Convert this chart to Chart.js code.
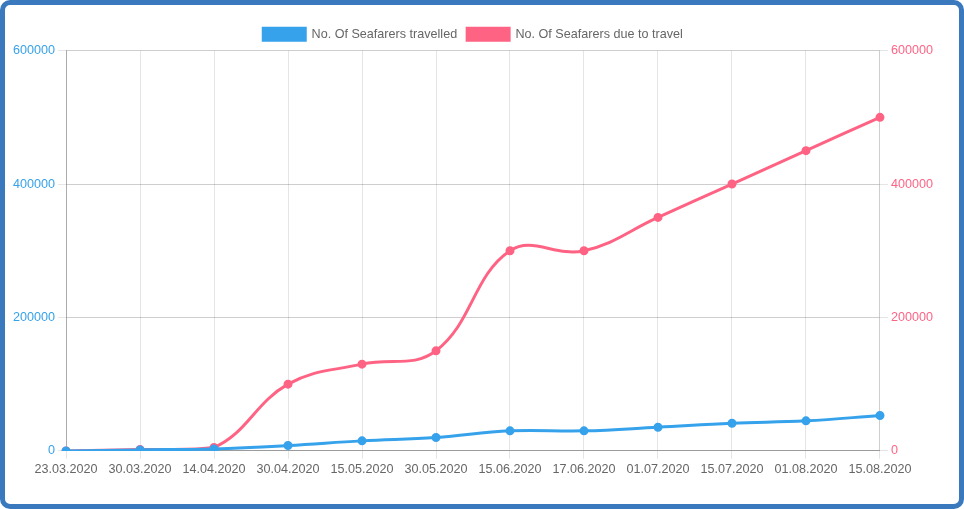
<!DOCTYPE html>
<html>
<head>
<meta charset="utf-8">
<script src="https://cdn.jsdelivr.net/npm/chart.js@4/dist/chart.umd.min.js"></script>
<style>
    html, body { margin: 0; padding: 0; background: #fff; }
    #moldura {
        width: 964px; height: 509px; box-sizing: border-box;
        border: 5px solid #3a79be; border-radius: 10px;
        position: relative; overflow: hidden;
    }
    #grafico { display: block; }
</style>
</head>
<body>
<div id="moldura"><canvas id="grafico" width="954" height="499"></canvas></div>
<script>
const datas = ["23.03.2020", "30.03.2020", "14.04.2020", "30.04.2020", "15.05.2020", "30.05.2020",
               "15.06.2020", "17.06.2020", "01.07.2020", "15.07.2020", "01.08.2020", "15.08.2020"];
const viajaram = [0, 1500, 3000, 8000, 15000, 20000, 30000, 30000, 35500, 41500, 45000, 53000];
const aViajar  = [0, 2000, 5000, 100000, 130000, 150000, 300000, 300000, 350000, 400000, 450000, 500000];

const azul = "#36a2eb";
const rosa = "#ff6384";
const fonte = { family: "'Liberation Sans', Arial, sans-serif", size: 12.6 };

Chart.defaults.font = fonte;
Chart.defaults.color = "#666";

// sem separador de milhar, igual ao original
const semVirgula = v => String(v);

new Chart(document.getElementById("grafico"), {
    type: "line",
    data: {
        labels: datas,
        datasets: [{
            label: "No. Of Seafarers travelled",
            data: viajaram,
            borderColor: azul,
            backgroundColor: azul,
            pointBackgroundColor: azul,
            borderWidth: 3,
            pointRadius: 3,
            tension: 0.4,
            fill: false,
            yAxisID: "esq"
        }, {
            label: "No. Of Seafarers due to travel",
            data: aViajar,
            borderColor: rosa,
            backgroundColor: rosa,
            pointBackgroundColor: rosa,
            borderWidth: 3,
            pointRadius: 3,
            tension: 0.4,
            fill: false,
            yAxisID: "dir"
        }]
    },
    options: {
        responsive: false,
        animation: false,
        layout: { padding: { top: 13, left: 5, right: 23, bottom: 24 } },
        plugins: {
            legend: {
                labels: { boxWidth: 42, boxHeight: 12, color: "#666", font: fonte }
            },
            tooltip: { enabled: false }
        },
        scales: {
            x: {
                grid: { color: "rgba(0,0,0,0.1)", tickLength: 8 },
                border: { color: "rgba(0,0,0,0.25)" },
                ticks: { color: "#666", maxRotation: 0, autoSkip: false }
            },
            esq: {
                position: "left",
                min: 0, max: 600000,
                grid: { color: "rgba(0,0,0,0.1)", tickLength: 8 },
                border: { color: "rgba(0,0,0,0.25)" },
                ticks: { color: azul, stepSize: 200000, callback: semVirgula }
            },
            dir: {
                position: "right",
                min: 0, max: 600000,
                grid: { color: "rgba(0,0,0,0.1)", tickLength: 8 },
                border: { color: "rgba(0,0,0,0.1)" },
                ticks: { color: rosa, stepSize: 200000, callback: semVirgula }
            }
        }
    }
});
</script>
</body>
</html>
